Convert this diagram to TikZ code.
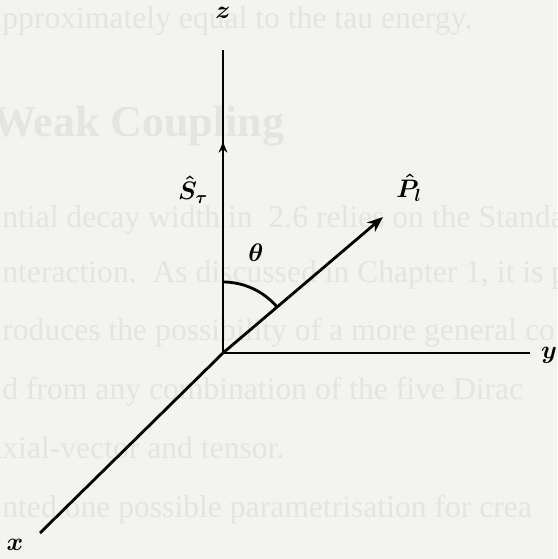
\documentclass[tikz,border=0pt]{standalone}
\usepackage{fontspec}
\usetikzlibrary{arrows.meta}
\newfontfamily\pagefont{Liberation Serif}
\definecolor{paper}{RGB}{243,243,240}
\definecolor{ghost}{RGB}{228,228,225}
\tikzset{
	axis/.style={line width=1.6pt},
	lbl/.style={font=\Large\boldmath},
	ghosttext/.style={anchor=base west, inner sep=0pt, text=ghost, font=\pagefont\fontsize{18}{20}\selectfont},
}
\begin{document}
\begin{tikzpicture}[>={Stealth[length=9pt,width=7pt]}]
		\useasboundingbox (-4.46,-4.12) rectangle (6.68,7.06);
		\fill[paper] (-4.46,-4.12) rectangle (6.68,7.06);
		\clip (-4.46,-4.12) rectangle (6.68,7.06);
		% text of the page showing through
		\node[ghosttext] (t1) at (-4.70,6.48) {approximately equal to the tau energy.};
		\node[ghosttext, font=\pagefont\bfseries\fontsize{25}{28}\selectfont] (t2) at (-4.62,4.32) {Weak Coupling};
		\node[ghosttext] (t3) at (-4.42,2.50) {ntial decay width in~~2.6 relies on the Standard};
		\node[ghosttext] (t4) at (-4.42,1.40) {nteraction.~~As discussed in Chapter 1, it is p};
		\node[ghosttext] (t5) at (-4.42,0.24) {roduces the possibility of a more general co};
		\node[ghosttext] (t6) at (-4.42,-0.94) {d from any combination of the five Dirac};
		\node[ghosttext] (t7) at (-4.70,-2.10) {axial-vector and tensor.};
		\node[ghosttext] (t8) at (-4.42,-3.28) {nted one possible parametrisation for crea};
		% axes
		\coordinate (O) at (0,0);
		\coordinate (zend) at (0,6.06);
		\coordinate (yend) at (6.14,0);
		\coordinate (xend) at (-3.66,-3.6);
		\coordinate (S) at (0,4.22);
		\coordinate (P) at (3.2,2.72);
		\draw[axis] (O) -- (zend);
		\draw[axis] (O) -- (yend);
		\draw[axis] (O) -- (xend);
		\draw[axis,-{Stealth[length=6pt,width=5pt]}] (O) -- (S);
		\draw[axis,->] (O) -- (P);
		\draw[axis] (0,1.42) arc[start angle=90, end angle=40.4, radius=1.42];
		\node[lbl] (zlab) at (0,6.8) {$z$};
		\node[lbl] (ylab) at (6.52,-0.04) {$y$};
		\node[lbl] (xlab) at (-4.16,-3.84) {$x$};
		\node[lbl] (Slab) at (-0.6,3.26) {$\hat{S}_\tau$};
		\node[lbl] (Plab) at (3.72,3.3) {$\hat{P}_l$};
		\node[lbl] (thlab) at (0.66,2.0) {$\theta$};
	\end{tikzpicture}
\end{document}
